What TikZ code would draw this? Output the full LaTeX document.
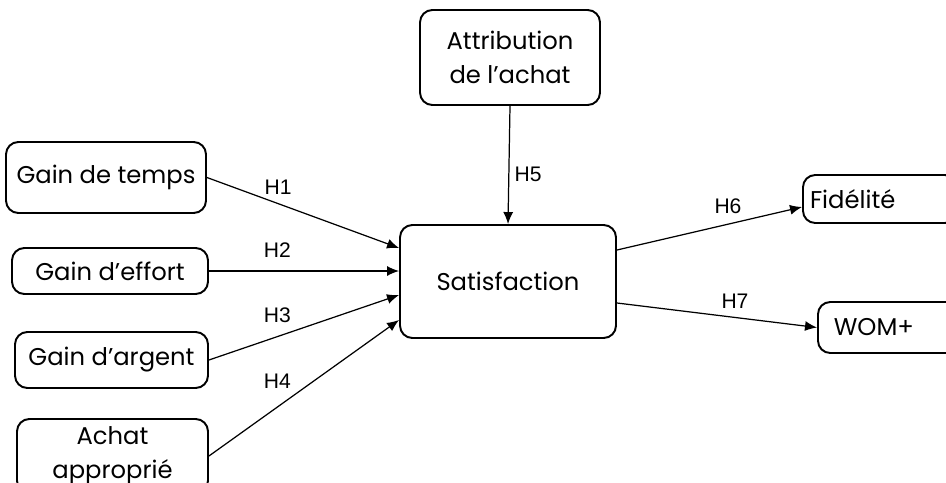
\documentclass[tikz,border=0pt]{standalone}
\usepackage{fontspec}
\setmainfont{Poppins}
\newfontfamily\hfont{Liberation Sans}
\usetikzlibrary{arrows.meta}
\tikzset{
  box/.style ={rectangle, rounded corners=7pt, draw=black, line width=1.1pt, fill=white, align=center, inner sep=2pt, font=\fontsize{13.8}{19.5}\selectfont},
  e/.style   ={-{Latex[length=2.4mm,width=2mm]}, line width=0.7pt, draw=black},
  hl/.style  ={font=\hfont\fontsize{12}{14}\selectfont, inner sep=0pt},
}

\begin{document}
\begin{tikzpicture}[x=0.02cm, y=-0.02cm]
\useasboundingbox (0,0) rectangle (946,483);
%% ---------- antecedents (left) ----------
\node[box, minimum width=4cm,    minimum height=1.42cm] (temps)  at (106,177.5) {Gain de temps};
\node[box, minimum width=3.92cm, minimum height=0.92cm] (effort) at (110,271)   {Gain d'effort};
\node[box, minimum width=3.86cm, minimum height=1.12cm] (argent) at (111.5,360) {Gain d'argent};
\node[box, minimum width=3.82cm, minimum height=1.48cm] (achat)  at (112.5,456) {Achat\\approprié};
%% ---------- mediator + moderator ----------
\node[box, minimum width=3.6cm,  minimum height=1.9cm]  (attr) at (510,57.5)  {Attribution\\de l'achat};
\node[box, minimum width=4.32cm, minimum height=2.26cm] (sat)  at (508,281.5) {Satisfaction};
%% ---------- outcomes (right, cut by the page edge) ----------
\node[box, anchor=west, text width=2.8cm, align=left, inner xsep=4pt, minimum height=0.96cm] (fid) at (802,199)   {Fidélité};
\node[box, anchor=west, text width=2.4cm, align=left, inner xsep=9pt, minimum height=1.02cm] (wom) at (817,327.5) {WOM+};
%% ---------- hypotheses ----------
\draw[e] (temps.east) -- ([yshift=0.67cm]sat.west)   node[hl, pos=.37, above=5pt]   {H1};
\draw[e] (effort.east) -- (effort.east -| sat.west)  node[hl, pos=.36, above=7.5pt] {H2};
\draw[e] (argent.east) -- ([yshift=-0.27cm]sat.west) node[hl, pos=.36, above=7.5pt] {H3};
\draw[e] (achat.east) -- ([yshift=-0.77cm]sat.west)  node[hl, pos=.36, above=10pt]  {H4};
\draw[e] (attr.south) -- (sat.north)                 node[hl, pos=.58, right=3pt]   {H5};
\draw[e] ([yshift=0.63cm]sat.east) -- ([yshift=-0.16cm]fid.west) node[hl, pos=.6, above=5.5pt] {H6};
\draw[e] ([yshift=-0.43cm]sat.east) -- (wom.west)    node[hl, pos=.59, above=5pt]   {H7};
\end{tikzpicture}
\end{document}
